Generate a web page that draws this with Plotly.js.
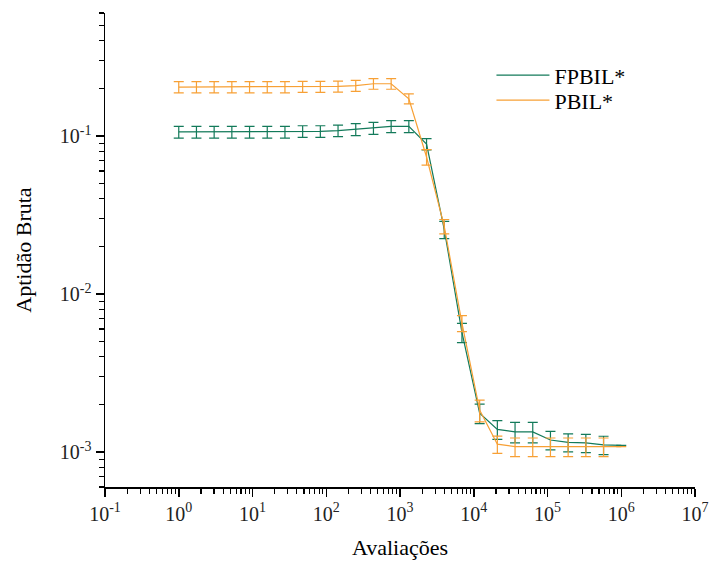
<!DOCTYPE html>
<html>
<head>
<meta charset="utf-8">
<script src="https://cdn.plot.ly/plotly-3.0.1.min.js"></script>
<style>
html,body{margin:0;padding:0;background:#fff;}
#chart{width:709px;height:562px;}
</style>
</head>
<body>
<div id="chart"></div>
<script>
// Evaluations (x)
const evaluations = [1, 1.738, 3.020, 5.248, 9.120, 15.85, 27.54, 47.86, 83.18, 144.5, 251.2, 436.5, 758.6, 1318, 2291, 3981, 6918, 12023, 20893, 36308, 63096, 109648, 190546, 331131, 575440, 1000000];

// FPBIL* series
const fpbilValues = [0.106, 0.106, 0.106, 0.106, 0.106, 0.106, 0.106, 0.107, 0.107, 0.108, 0.110, 0.112, 0.115, 0.115, 0.0888, 0.0256, 0.00572, 0.00176, 0.00139, 0.00134, 0.00134, 0.00119, 0.00115, 0.00114, 0.00111, 0.00110];
const fpbilErrors = [0.009, 0.009, 0.009, 0.009, 0.009, 0.009, 0.009, 0.009, 0.009, 0.009, 0.0095, 0.0098, 0.010, 0.010, 0.0073, 0.0032, 0.0008, 0.00025, 0.00019, 0.0002, 0.0002, 0.00016, 0.00015, 0.00015, 0.000147, null];

// PBIL* series
const pbilValues = [0.204, 0.204, 0.204, 0.204, 0.204, 0.204, 0.204, 0.205, 0.205, 0.206, 0.208, 0.214, 0.214, 0.172, 0.0736, 0.0268, 0.00653, 0.00184, 0.00112, 0.00108, 0.00108, 0.00108, 0.00108, 0.00108, 0.00108, 0.00108];
const pbilErrors = [0.0165, 0.0165, 0.0165, 0.0165, 0.0165, 0.0165, 0.0165, 0.0165, 0.0165, 0.0165, 0.0165, 0.0165, 0.0165, 0.0125, 0.0083, 0.0028, 0.00076, 0.00029, 0.00014, 0.000145, 0.000145, 0.000145, 0.000145, 0.000145, 0.000145, null];

// Tick labels
const xTickVals = [0.1, 1, 10, 100, 1000, 10000, 100000, 1000000, 10000000];
const xTickText = ['10<sup>-1</sup>', '10<sup>0</sup>', '10<sup>1</sup>', '10<sup>2</sup>', '10<sup>3</sup>', '10<sup>4</sup>', '10<sup>5</sup>', '10<sup>6</sup>', '10<sup>7</sup>'];
const yTickVals = [0.001, 0.01, 0.1];
const yTickText = ['10<sup>-3</sup>', '10<sup>-2</sup>', '10<sup>-1</sup>'];

function minorTicks(lo, hi) {
  const out = [];
  for (let e = lo; e <= hi; e++) {
    for (let m = 2; m <= 9; m++) out.push(m * Math.pow(10, e));
  }
  return out;
}

const green = '#137a5a';
const orange = '#f7a035';
const FONT = 'Liberation Serif';

const traces = [
  {
    x: evaluations, y: fpbilValues, name: 'FPBIL*', type: 'scatter', mode: 'lines', legend: 'legend',
    line: {color: green, width: 1.2},
    error_y: {type: 'data', array: fpbilErrors, visible: true, color: green, thickness: 1.2, width: 5}
  },
  {
    x: evaluations, y: pbilValues, name: 'PBIL*', type: 'scatter', mode: 'lines', legend: 'legend2',
    line: {color: orange, width: 1.2},
    error_y: {type: 'data', array: pbilErrors, visible: true, color: orange, thickness: 1.2, width: 5}
  }
];

const legendBase = {
  xanchor: 'left', yanchor: 'top',
  bgcolor: 'rgba(0,0,0,0)', font: {family: FONT, size: 22, color: '#000'},
  itemwidth: 53
};

const layout = {
  width: 709, height: 562,
  margin: {l: 105, r: 14, t: 13, b: 75},
  paper_bgcolor: '#fff', plot_bgcolor: '#fff',
  font: {family: FONT, color: '#000', size: 19},
  showlegend: true,
  legend: Object.assign({}, legendBase, {x: 0.655, y: 0.913}),
  legend2: Object.assign({}, legendBase, {x: 0.655, y: 0.860}),
  xaxis: {
    type: 'log', range: [-1, 7],
    tickmode: 'array', tickvals: xTickVals, ticktext: xTickText,
    ticks: 'outside', ticklen: 8, tickwidth: 1.5, tickcolor: '#000',
    showline: true, linecolor: '#000', linewidth: 1.5, mirror: false,
    showgrid: false, zeroline: false,
    tickfont: {family: FONT, size: 20, color: '#222'},
    minor: {tickmode: 'array', tickvals: minorTicks(-1, 6), ticks: 'outside', ticklen: 5, tickwidth: 1.2, tickcolor: '#000', showgrid: false},
    title: {text: 'Avaliações', font: {family: FONT, size: 22, color: '#000'}, standoff: 16}
  },
  yaxis: {
    type: 'log', range: [Math.log10(6e-4), Math.log10(0.6)],
    tickmode: 'array', tickvals: yTickVals, ticktext: yTickText,
    ticks: 'outside', ticklen: 8, tickwidth: 1.5, tickcolor: '#000',
    showline: true, linecolor: '#000', linewidth: 1.5, mirror: false,
    showgrid: false, zeroline: false,
    tickfont: {family: FONT, size: 20, color: '#222'},
    minor: {tickmode: 'array', tickvals: minorTicks(-4, -1), ticks: 'outside', ticklen: 5, tickwidth: 1.2, tickcolor: '#000', showgrid: false},
    title: {text: 'Aptidão Bruta', font: {family: FONT, size: 22, color: '#000'}, standoff: 22}
  }
};

Plotly.newPlot('chart', traces, layout, {displayModeBar: false, staticPlot: true});
</script>
</body>
</html>
